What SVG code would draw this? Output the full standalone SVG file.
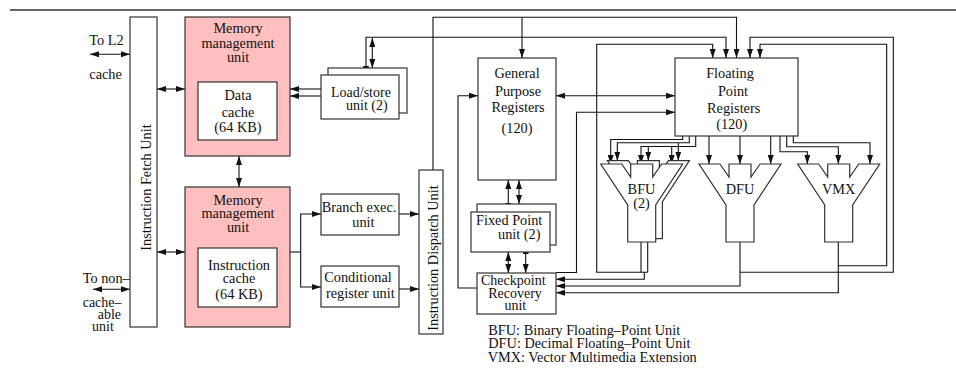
<svg xmlns="http://www.w3.org/2000/svg" width="956" height="371" viewBox="0 0 956 371">
<style>
.box{fill:#fff;stroke:#333;stroke-width:1.2}
.pink{fill:#ffbfbf;stroke:#333;stroke-width:1.2}
.ln{fill:none;stroke:#111;stroke-width:1.1}
.e{marker-end:url(#ah)}
.d{marker-end:url(#ah);marker-start:url(#ah)}
text{font-family:"Liberation Serif","Times New Roman",serif;font-size:14.3px;fill:#111}
.m{text-anchor:middle}
.t{font-size:14px}
</style>
<defs>
<marker id="ah" markerWidth="9" markerHeight="6" refX="9" refY="3" orient="auto-start-reverse" markerUnits="userSpaceOnUse"><path d="M0,0 L9,3 L0,6 z" fill="#111"/></marker>
<path id="funnel" d="M0,0 H21 L30,13 V0 H52 V13 L61,0 H82 L55,41 V78 H27 V41 Z"/>
</defs>
<line x1="10" y1="10" x2="956" y2="10" stroke="#333" stroke-width="1.3"/>

<g id="connectors">
<line class="ln d" x1="90" y1="54.3" x2="130" y2="54.3"/>
<line class="ln d" x1="93" y1="289.3" x2="130" y2="289.3"/>
<line class="ln d" x1="157" y1="89" x2="185" y2="89"/>
<line class="ln d" x1="157" y1="252" x2="185" y2="252"/>
<line class="ln d" x1="239" y1="156" x2="239" y2="187"/>
<line class="ln e" x1="321" y1="89" x2="290" y2="89"/>
<line class="ln e" x1="321" y1="96" x2="290" y2="96"/>
<path class="ln d" d="M366,75 V37.3 H726 V58"/>
<line class="ln d" x1="372.3" y1="38" x2="372.3" y2="68"/>
<path class="ln e" d="M433,170 V17.3 H736.5 V58"/>
<path class="ln e" d="M522,17.3 V58"/>
<line class="ln d" x1="556" y1="95.7" x2="675" y2="95.7"/>
<path class="ln e" d="M477,288 H458 V95.7 H478"/>
<path class="ln e" d="M556,272.5 H576.5 V112.3 H675"/>
<line class="ln d" x1="508.3" y1="180" x2="508.3" y2="212"/>
<line class="ln d" x1="519" y1="180" x2="519" y2="204"/>
<line class="ln d" x1="508.3" y1="252" x2="508.3" y2="273"/>
<line class="ln d" x1="525.7" y1="245" x2="525.7" y2="273"/>
<line class="ln" x1="290" y1="252" x2="300.7" y2="252"/>
<path class="ln d" d="M321,214 H300.7 V287 H321"/>
<line class="ln e" x1="399" y1="214" x2="419" y2="214"/>
<line class="ln e" x1="399" y1="289" x2="419" y2="289"/>
<path class="ln" d="M641,241.7 V272.3 M647.7,238.3 V272.3"/>
<path class="ln e" d="M647.7,272.3 H596.7 V44.3 H712.7 V58"/>
<path class="ln e" d="M644.3,272.3 V279.3 H556"/>
<path class="ln e" d="M740,241.7 V286 H556"/>
<path class="ln e" d="M740,272.3 H893.3 V37.3 H750 V58"/>
<path class="ln e" d="M838.3,241.7 V292.7 H556"/>
<path class="ln e" d="M838.3,265.7 H886.7 V44.3 H760 V58"/>
<path class="ln e" d="M709,136 V164"/>
<path class="ln e" d="M740,136 V164"/>
<path class="ln e" d="M770.7,136 V164"/>
<path class="ln e" d="M780,136 V151.7 H807.3 V164"/>
<path class="ln e" d="M786.7,136 V146.7 H838.3 V164"/>
<path class="ln e" d="M793.3,136 V142.7 H870 V164"/>
<path class="ln e" d="M682.7,136 V139.5 H610.7 V164"/>
<path class="ln e" d="M689.3,136 V142.7 H617.3 V160.7"/>
<path class="ln e" d="M695.7,136 V146.5 H641 V164"/>
<path class="ln e" d="M648.3,146.5 V160.7"/>
<path class="ln e" d="M671.7,146.5 V164"/>
<path class="ln e" d="M678.3,142.7 V160.7"/>
</g>

<g id="ifu">
<rect class="box" x="130" y="17" width="27" height="310"/>
<text class="m" transform="translate(151,187.5) rotate(-90)">Instruction Fetch Unit</text>
</g>
<g id="l2">
<text x="89.3" y="45">To L2</text>
<text x="89.3" y="79.3">cache</text>
</g>
<g id="noncache">
<text x="82.7" y="283.3">To non–</text>
<text class="t" x="82.7" y="307.3">cache–</text>
<text class="t" x="97.7" y="319.3">able</text>
<text class="t" x="92" y="331">unit</text>
</g>
<g id="mmu1">
<rect class="pink" x="185" y="17" width="105" height="139"/>
<text class="m" x="238" y="33">Memory</text>
<text class="m" x="238" y="47.5">management</text>
<text class="m" x="238" y="62">unit</text>
<rect class="box" x="198" y="82" width="79" height="58"/>
<text class="m" x="238" y="100">Data</text>
<text class="m" x="238" y="116.5">cache</text>
<text class="m" x="238" y="132.4">(64 KB)</text>
</g>
<g id="mmu2">
<rect class="pink" x="185" y="187" width="105" height="140"/>
<text class="m" x="238" y="204.5">Memory</text>
<text class="m" x="238" y="217.7">management</text>
<text class="m" x="238" y="232.3">unit</text>
<rect class="box" x="198" y="248" width="79" height="59"/>
<text class="m" x="239" y="269.7">Instruction</text>
<text class="m" x="239" y="283.3">cache</text>
<text class="m" x="239" y="299">(64 KB)</text>
</g>
<g id="lsu">
<rect class="box" x="328" y="68" width="79" height="45"/>
<rect class="box" x="321" y="75" width="78" height="44"/>
<text class="t" x="331" y="96.5">Load/store</text>
<text class="t" x="346" y="109.5">unit (2)</text>
</g>
<g id="branch">
<rect class="box" x="321" y="194" width="78" height="41"/>
<text class="m" x="359" y="211.7">Branch exec.</text>
<text class="m" x="363.4" y="226.7">unit</text>
</g>
<g id="cond">
<rect class="box" x="321" y="266" width="78" height="41"/>
<text class="m" x="358" y="282.3">Conditional</text>
<text class="m" x="360.3" y="298.3">register unit</text>
</g>
<g id="idu">
<rect class="box" x="419" y="170" width="24" height="164"/>
<text class="m" transform="translate(438,258) rotate(-90)">Instruction Dispatch Unit</text>
</g>
<g id="gpr">
<rect class="box" x="478" y="58" width="78" height="122"/>
<text class="m" x="517" y="78">General</text>
<text class="m" x="518" y="95.5">Purpose</text>
<text class="m" x="518" y="112.2">Registers</text>
<text class="m" x="517" y="132.5">(120)</text>
</g>
<g id="fxu">
<rect class="box" x="477" y="204" width="79" height="41"/>
<rect class="box" x="471" y="212" width="79" height="40"/>
<text x="476" y="225">Fixed Point</text>
<text x="498" y="239">unit (2)</text>
</g>
<g id="ckpt">
<rect class="box" x="477" y="273" width="79" height="41"/>
<text class="m t" x="513.3" y="285">Checkpoint</text>
<text class="m t" x="515" y="298">Recovery</text>
<text class="m t" x="515.3" y="309.5">unit</text>
</g>
<g id="fpr">
<rect class="box" x="675" y="58" width="123" height="78"/>
<text class="m" x="730" y="78">Floating</text>
<text class="m" x="733" y="96">Point</text>
<text class="m" x="733.7" y="112.5">Registers</text>
<text class="m" x="731.7" y="129">(120)</text>
</g>
<g id="bfu">
<use href="#funnel" class="box" x="607.4" y="160.7"/>
<use href="#funnel" class="box" x="600.7" y="164"/>
<text class="m" x="641.5" y="194">BFU</text>
<text class="m" x="641.5" y="208.3">(2)</text>
</g>
<g id="dfu">
<use href="#funnel" class="box" x="699" y="164"/>
<text class="m" x="740" y="194">DFU</text>
</g>
<g id="vmx">
<use href="#funnel" class="box" x="797.7" y="164"/>
<text class="m" x="838.7" y="194">VMX</text>
</g>
<g id="legend">
<text x="488.3" y="334.5">BFU: Binary Floating–Point Unit</text>
<text x="488.3" y="348">DFU: Decimal Floating–Point Unit</text>
<text x="487.7" y="361.7">VMX: Vector Multimedia Extension</text>
</g>
</svg>
